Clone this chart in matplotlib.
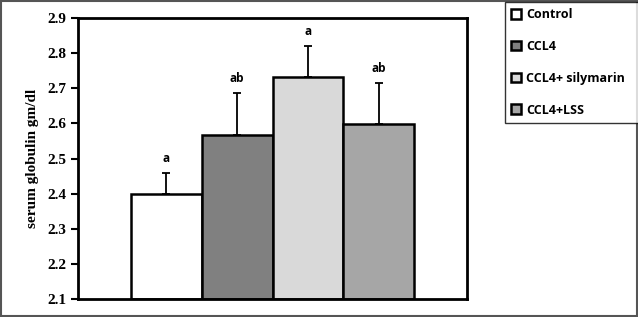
import matplotlib.pyplot as plt
from matplotlib.patches import Rectangle

groups = ["Control", "CCL4", "CCL4+ silymarin", "CCL4+LSS"]
means = [2.40, 2.567, 2.732, 2.598]
errors = [0.06, 0.12, 0.088, 0.117]
letters = ["a", "ab", "a", "ab"]
colors = ["#ffffff", "#808080", "#d9d9d9", "#a6a6a6"]

fig = plt.figure(figsize=(6.38, 3.17), dpi=100)
ax = fig.add_axes([0.1223, 0.0568, 0.61, 0.886])

x = range(len(groups))
bars = ax.bar(x, [m - 2.1 for m in means], bottom=2.1, width=1.0,
              color=colors, edgecolor="black", linewidth=1.8, label=None)
ax.errorbar(x, means, yerr=[[0] * 4, errors], fmt="none", ecolor="black",
            elinewidth=1.3, capsize=3, capthick=1.3)

for xi, m, e, t in zip(x, means, errors, letters):
    ax.text(xi, m + e + 0.022, t, ha="center", va="bottom", fontsize=8.5,
            fontweight="bold", family="Open Sans")

ax.set_xlim(-1.25, 4.25)
ax.set_ylim(2.1, 2.9)
ax.set_yticks([2.1, 2.2, 2.3, 2.4, 2.5, 2.6, 2.7, 2.8, 2.9])
ax.set_xticks([])
ax.tick_params(axis="y", direction="out", length=5, width=1.5, labelsize=11)
for lab in ax.get_yticklabels():
    lab.set_family("Liberation Serif")
    lab.set_fontweight("bold")
for s in ax.spines.values():
    s.set_linewidth(2)
ax.set_ylabel("serum globulin gm/dl", family="Liberation Serif",
              fontweight="bold", fontsize=11, labelpad=6)

# legend box runs past the right edge of the image, as in the original
leg = fig.legend(bars, groups, loc="upper left", mode="expand",
                 bbox_to_anchor=(505 / 638, 0, 0.25, 1 - 2 / 317),
                 frameon=True, fancybox=False, edgecolor="black",
                 borderaxespad=0, labelspacing=1.5, handlelength=0.8,
                 handleheight=0.8, handletextpad=0.4, borderpad=0.5,
                 prop={"family": "Open Sans", "weight": "bold", "size": 9})
leg.get_frame().set_linewidth(1)

fig.patches.append(Rectangle((0.002, 0.003), 0.996, 0.994, transform=fig.transFigure,
                             fill=False, edgecolor="#555555", linewidth=1.5))

plt.savefig("out.png", dpi=100)
